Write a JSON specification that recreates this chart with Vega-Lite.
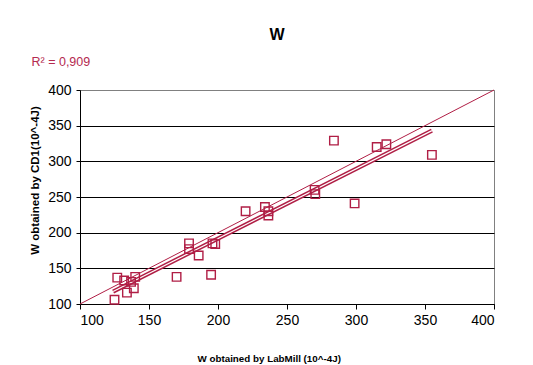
{
  "$schema": "https://vega.github.io/schema/vega-lite/v6.json",
  "width": 414,
  "height": 214,
  "autosize": {"type": "none"},
  "padding": {"left": 80, "top": 90, "right": 39, "bottom": 61},
  "background": "white",
  "datasets": {
    "points": [
      {"x": 125, "y": 106}, {"x": 127, "y": 137}, {"x": 132, "y": 133}, {"x": 134, "y": 116},
      {"x": 137, "y": 131}, {"x": 139, "y": 122}, {"x": 140, "y": 138}, {"x": 170, "y": 138},
      {"x": 179, "y": 185}, {"x": 179, "y": 177}, {"x": 186, "y": 168}, {"x": 195, "y": 141},
      {"x": 196, "y": 185}, {"x": 198, "y": 184}, {"x": 220, "y": 230}, {"x": 234, "y": 236},
      {"x": 236.5, "y": 230}, {"x": 236.5, "y": 224}, {"x": 270, "y": 260}, {"x": 270.5, "y": 254},
      {"x": 284, "y": 329}, {"x": 299, "y": 241}, {"x": 315, "y": 320}, {"x": 322, "y": 324},
      {"x": 355, "y": 309}
    ],
    "trend": [{"x": 124, "y": 117.5}, {"x": 355, "y": 343}],
    "diag": [{"x": 100, "y": 100}, {"x": 400, "y": 400}]
  },
  "title": {
    "text": "W",
    "anchor": "middle",
    "frame": "group",
    "dx": -10,
    "offset": 12,
    "font": "Liberation Sans, Arial",
    "fontSize": 16,
    "fontWeight": "bold",
    "color": "black"
  },
  "config": {
    "view": {"stroke": "#808080", "strokeWidth": 1},
    "font": "Liberation Sans, Arial"
  },
  "resolve": {"axis": {"x": "independent", "y": "independent"}},
  "layer": [
    {
      "data": {"name": "diag"},
      "mark": {"type": "line", "color": "#b01e45", "strokeWidth": 1},
      "encoding": {
        "x": {
          "field": "x", "type": "quantitative",
          "scale": {"domain": [100, 400], "nice": false, "zero": false},
          "axis": {
            "orient": "bottom",
            "values": [100, 150, 200, 250, 300, 350, 400],
            "grid": false,
            "domainColor": "black",
            "domainWidth": 1,
            "tickColor": "black",
            "tickSize": 5,
            "labelFont": "Liberation Sans, Arial",
            "labelFontSize": 14,
            "labelColor": "black",
            "labelPadding": 4,
            "title": "W  obtained by LabMill (10^-4J)",
            "titleFont": "Liberation Sans, Arial",
            "titleFontSize": 9.8,
            "titleFontWeight": "bold",
            "titleColor": "black",
            "titleX": 188.7,
            "titleY": 57,
            "titleAlign": "center",
            "titleBaseline": "alphabetic"
          }
        },
        "y": {
          "field": "y", "type": "quantitative",
          "scale": {"domain": [100, 400], "nice": false, "zero": false},
          "axis": {
            "orient": "left",
            "values": [100, 150, 200, 250, 300, 350, 400],
            "labelOverlap": false,
            "grid": true,
            "gridColor": {"condition": {"test": "datum.value === 400", "value": "#808080"}, "value": "black"},
            "gridWidth": 1,
            "gridOpacity": 1,
            "domainColor": "black",
            "domainWidth": 1,
            "tickColor": "black",
            "tickSize": 4,
            "labelFont": "Liberation Sans, Arial",
            "labelFontSize": 14,
            "labelColor": "black",
            "labelPadding": 5,
            "title": "W  obtained by CD1(10^-4J)",
            "titleFont": "Liberation Sans, Arial",
            "titleFontSize": 11.5,
            "titleFontWeight": "bold",
            "titleColor": "black",
            "titleX": -45,
            "titleY": 90,
            "titleAlign": "center",
            "titleBaseline": "middle"
          }
        }
      }
    },
    {
      "data": {"name": "trend"},
      "mark": {"type": "line", "color": "#b01e45", "strokeWidth": 4.2},
      "encoding": {
        "x": {"field": "x", "type": "quantitative", "axis": null},
        "y": {"field": "y", "type": "quantitative", "axis": null}
      }
    },
    {
      "data": {"name": "trend"},
      "mark": {"type": "line", "color": "white", "strokeWidth": 1.2},
      "encoding": {
        "x": {
          "field": "x", "type": "quantitative",
          "axis": {
            "orient": "top",
            "labels": false,
            "ticks": false,
            "domain": false,
            "grid": false,
            "title": "R² = 0,909",
            "titleFont": "Liberation Sans, Arial",
            "titleFontSize": 12.5,
            "titleFontWeight": "normal",
            "titleColor": "#b52a50",
            "titleX": -49,
            "titleY": -25,
            "titleAlign": "left",
            "titleBaseline": "alphabetic"
          }
        },
        "y": {"field": "y", "type": "quantitative", "axis": null}
      }
    },
    {
      "data": {"name": "points"},
      "mark": {"type": "point", "shape": "square", "filled": false, "color": "#b01e45", "size": 72, "strokeWidth": 1.4, "opacity": 1},
      "encoding": {
        "x": {"field": "x", "type": "quantitative", "axis": null},
        "y": {"field": "y", "type": "quantitative", "axis": null}
      }
    }
  ]
}
